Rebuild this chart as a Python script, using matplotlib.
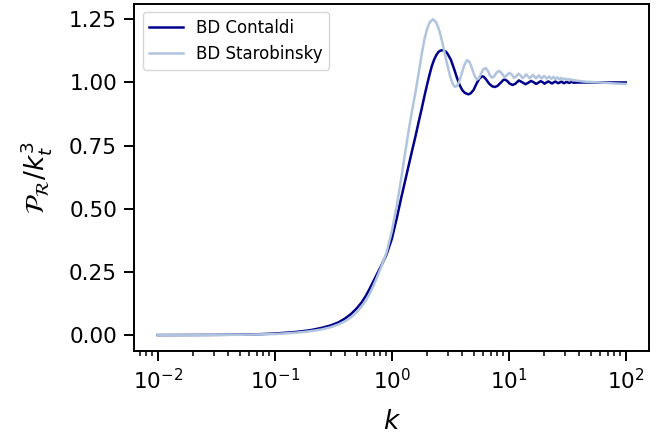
import matplotlib
matplotlib.use("Agg")
import matplotlib.pyplot as plt

# ---- data ----
k_contaldi = [0.01, 0.02, 0.03, 0.05, 0.07, 0.1, 0.15, 0.2, 0.25, 0.3, 0.35, 0.4,
              0.45, 0.5, 0.55, 0.6, 0.65, 0.7, 0.8, 0.9, 1.0, 1.1, 1.2, 1.3, 1.4,
              1.5, 1.6, 1.7, 1.8, 1.9, 2.0, 2.1, 2.2, 2.3, 2.4, 2.5, 2.6, 2.75,
              2.9, 3.0, 3.2, 3.4, 3.6, 3.8, 4.0, 4.2, 4.5, 4.7, 5.0, 5.3, 5.6,
              5.9, 6.1, 6.4, 6.8, 7.2, 7.6, 8.0, 8.5, 9.0, 9.3, 9.7, 10.2, 10.8,
              11.4, 12.2, 13.0, 13.9, 14.7, 15.5, 16.3, 17.1, 17.9, 18.7, 19.5,
              20.2, 21.0, 21.8, 22.6, 23.4, 24.2, 25.0, 25.8, 26.5, 28.1, 29.7,
              31.2, 32.8, 34.4, 36.0, 40.0, 50.0, 70.0, 100.0]
p_contaldi = [0.0, 0.0003, 0.0006, 0.0015, 0.003, 0.006, 0.012, 0.019, 0.028, 0.038,
              0.050, 0.066, 0.084, 0.105, 0.128, 0.155, 0.185, 0.215, 0.268, 0.318,
              0.380, 0.460, 0.540, 0.610, 0.675, 0.735, 0.790, 0.845, 0.895, 0.945,
              0.990, 1.030, 1.065, 1.090, 1.108, 1.120, 1.126, 1.128, 1.122, 1.113,
              1.090, 1.055, 1.020, 0.990, 0.970, 0.959, 0.953, 0.956, 0.970, 0.995,
              1.015, 1.024, 1.023, 1.012, 0.995, 0.985, 0.982, 0.986, 0.998, 1.010,
              1.011, 1.006, 0.995, 0.990, 0.995, 1.008, 1.001, 0.993, 0.999, 1.006,
              1.001, 0.994, 0.999, 1.005, 1.001, 0.995, 1.000, 1.004, 1.000, 0.996,
              1.000, 1.004, 1.000, 0.997, 1.003, 0.997, 1.002, 0.998, 1.002, 0.999,
              1.000, 1.000, 1.000, 1.000]

k_starobinsky = [0.01, 0.02, 0.05, 0.1, 0.15, 0.2, 0.25, 0.3, 0.35, 0.4, 0.45, 0.5,
                 0.55, 0.6, 0.65, 0.7, 0.8, 0.9, 1.0, 1.1, 1.2, 1.3, 1.4, 1.5, 1.6,
                 1.7, 1.8, 1.9, 2.0, 2.1, 2.25, 2.4, 2.55, 2.7, 2.85, 3.0, 3.15, 3.3,
                 3.45, 3.6, 3.75, 3.9, 4.05, 4.2, 4.4, 4.6, 4.8, 5.0, 5.15, 5.35,
                 5.55, 5.8, 6.05, 6.35, 6.65, 6.9, 7.2, 7.5, 7.9, 8.3, 8.7, 9.2, 9.6,
                 10.1, 10.6, 11.1, 11.6, 12.1, 12.6, 13.1, 13.6, 14.1, 15.1, 16.1,
                 17.1, 18.1, 19.1, 20.1, 21.1, 22.1, 23.1, 24.1, 25.1, 26.1, 27.1,
                 28.1, 29.1, 30.1, 31.1, 32.1, 33.1, 34.1, 35.1, 36.1, 38.0, 40.0,
                 45.0, 50.0, 60.0, 70.0, 80.0, 100.0]
p_starobinsky = [0.0, 0.0002, 0.001, 0.004, 0.009, 0.015, 0.022, 0.031, 0.042, 0.055,
                 0.071, 0.090, 0.112, 0.137, 0.165, 0.197, 0.262, 0.325, 0.410, 0.510,
                 0.615, 0.720, 0.815, 0.895, 0.965, 1.040, 1.110, 1.170, 1.210, 1.237,
                 1.250, 1.238, 1.205, 1.160, 1.110, 1.065, 1.025, 0.997, 0.983, 0.985,
                 1.000, 1.025, 1.050, 1.072, 1.088, 1.082, 1.062, 1.038, 1.022, 1.012,
                 1.016, 1.035, 1.052, 1.057, 1.045, 1.028, 1.019, 1.024, 1.040, 1.046,
                 1.036, 1.021, 1.028, 1.038, 1.031, 1.018, 1.025, 1.035, 1.028, 1.017,
                 1.023, 1.032, 1.017, 1.030, 1.016, 1.028, 1.016, 1.026, 1.015, 1.024,
                 1.014, 1.022, 1.013, 1.020, 1.012, 1.018, 1.011, 1.016, 1.010, 1.014,
                 1.009, 1.012, 1.008, 1.010, 1.007, 1.006, 1.003, 1.002, 1.000, 0.998,
                 0.996, 0.994]

labels = ["BD Contaldi", "BD Starobinsky"]
colors = ["#00008B", "#B0C4DE"]

fig = plt.figure(figsize=(6.72, 4.38), dpi=100)
ax = fig.add_axes([0.200, 0.199, 0.766, 0.793])

ax.plot(k_contaldi, p_contaldi, color=colors[0], lw=1.8, label=labels[0])
ax.plot(k_starobinsky, p_starobinsky, color=colors[1], lw=1.8, label=labels[1])

ax.set_xscale("log")
ax.set_xlabel(r"$k$", fontsize=19, labelpad=11)
ax.set_ylabel(r"$\mathcal{P}_\mathcal{R}/k_t^3$", fontsize=19, labelpad=11)
ax.set_yticks([0.0, 0.25, 0.5, 0.75, 1.0, 1.25])
ax.tick_params(axis="both", which="major", labelsize=15.5, length=7, width=1.4, pad=5.5)
ax.tick_params(axis="both", which="minor", length=3.4, width=1.1)
for s in ax.spines.values():
    s.set_linewidth(1.4)

ax.legend(loc="upper left", fontsize=12)

fig.savefig("out.png", dpi=100)
